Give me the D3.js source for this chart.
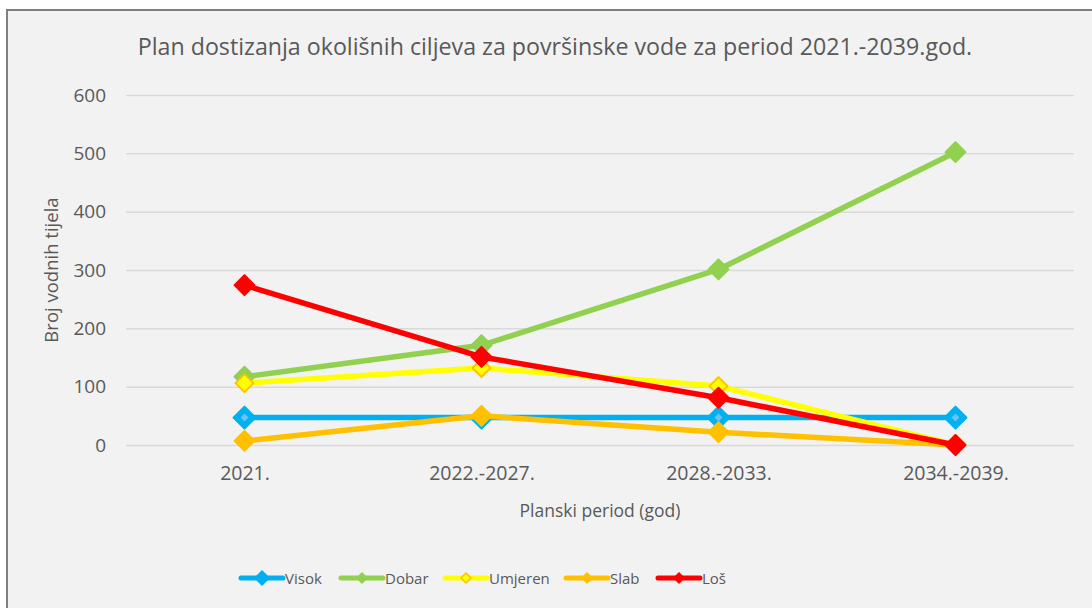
<!DOCTYPE html>
<html>
<head>
<meta charset="utf-8">
<script src="https://cdn.jsdelivr.net/npm/d3@7"></script>
<style>
  body { margin: 0; background: #fff; }
  svg { display: block; font-family: "Open Sans", sans-serif; }
  .grid line { stroke: #d9d9d9; stroke-width: 1.5; }
  .grid path { display: none; }
  .tick text { fill: #595959; }
</style>
</head>
<body>
<svg id="chart" width="1092" height="608"></svg>
<script>
const categories = ['2021.', '2022.-2027.', '2028.-2033.', '2034.-2039.'];
const yTicks = [0, 100, 200, 300, 400, 500, 600];

const visok = [47, 47, 47, 47];
const dobar = [117, 171, 301, 502];
const umjeren = [106, 132, 101, 0];
const slab = [7, 50, 22, 0];
const los = [274, 151, 81, 0];

const series = [
    { name: 'Visok', values: visok, color: '#00b0f0', fill: '#00b0f0', stroke: '#00b0f0', size: 11, inner: true },
    { name: 'Dobar', values: dobar, color: '#92d050', fill: '#92d050', stroke: '#92d050', size: 10 },
    { name: 'Umjeren', values: umjeren, color: '#ffff00', fill: '#ffff00', stroke: '#ffc000', size: 9 },
    { name: 'Slab', values: slab, color: '#ffc000', fill: '#ffc000', stroke: '#ffc000', size: 10 },
    { name: 'Loš', values: los, color: '#ff0000', fill: '#ff0000', stroke: '#ff0000', size: 10 }
];

const svg = d3.select('#chart');

// chart frame
svg.append('rect')
    .attr('x', 7).attr('y', 10)
    .attr('width', 1100).attr('height', 620)
    .attr('fill', '#f2f2f2')
    .attr('stroke', '#7f7f7f')
    .attr('stroke-width', 2);

const margin = { top: 95, left: 126, right: 18, bottom: 163 };
const width = 1092 - margin.left - margin.right;
const height = 608 - margin.top - margin.bottom;

const chart = svg.append('g')
    .attr('transform', `translate(${margin.left}, ${margin.top})`);

const xScale = d3.scalePoint()
    .range([0, width])
    .domain(categories)
    .padding(0.5);

const yScale = d3.scaleLinear()
    .range([height, 0])
    .domain([0, 600]);

/*grid*/
chart.append('g')
    .attr('class', 'grid')
    .call(d3.axisLeft(yScale)
        .tickValues(yTicks)
        .tickSize(-width)
        .tickFormat('')
    );

/*y axis labels*/
chart.append('g')
    .call(d3.axisLeft(yScale).tickValues(yTicks).tickSize(0).tickPadding(20))
    .call(g => g.select('.domain').remove())
    .call(g => g.selectAll('text').attr('font-size', 19).attr('font-family', '"Open Sans", sans-serif'));

/*x axis labels*/
chart.append('g')
    .attr('transform', `translate(0, ${height})`)
    .call(d3.axisBottom(xScale).tickSize(0).tickPadding(21))
    .call(g => g.select('.domain').remove())
    .call(g => g.selectAll('text').attr('font-size', 19.5).attr('font-family', '"Open Sans", sans-serif'));

const line = d3.line()
    .x((d, i) => xScale(categories[i]))
    .y((d) => yScale(d));

function diamond (g, cx, cy, s, s_) {
    return g.append('path')
        .attr('d', `M${cx},${cy - s}L${cx + s},${cy}L${cx},${cy + s}L${cx - s},${cy}Z`)
        .attr('fill', s_.fill)
        .attr('stroke', s_.stroke)
        .attr('stroke-width', 2)
        .attr('stroke-linejoin', 'round');
}

series.forEach((s) => {
    chart.append('path')
        .datum(s.values)
        .attr('fill', 'none')
        .attr('stroke', s.color)
        .attr('stroke-width', 5.5)
        .attr('stroke-linejoin', 'round')
        .attr('d', line);

    s.values.forEach((v, i) => {
        const cx = xScale(categories[i]);
        const cy = yScale(v);
        diamond(chart, cx, cy, s.size, s);
        if (s.inner) {
            chart.append('path')
                .attr('d', `M${cx},${cy - 4}L${cx + 4},${cy}L${cx},${cy + 4}L${cx - 4},${cy}Z`)
                .attr('fill', '#6cc2f0');
        }
    });
});

/*title*/
svg.append('text')
    .attr('x', 555).attr('y', 55)
    .attr('text-anchor', 'middle')
    .attr('font-size', 23.2)
    .attr('fill', '#595959')
    .text('Plan dostizanja okolišnih ciljeva za površinske vode za period 2021.-2039.god.');

/*axis titles*/
svg.append('text')
    .attr('transform', 'translate(58, 270) rotate(-90)')
    .attr('text-anchor', 'middle')
    .attr('font-size', 18.5)
    .attr('fill', '#595959')
    .text('Broj vodnih tijela');

svg.append('text')
    .attr('x', 600).attr('y', 517)
    .attr('text-anchor', 'middle')
    .attr('font-size', 17.5)
    .attr('fill', '#595959')
    .text('Planski period (god)');

/*legend*/
const legendX = [241, 341, 445, 566, 658];
const legend = svg.append('g');
series.forEach((s, i) => {
    const x0 = legendX[i];
    const y0 = 578;
    legend.append('line')
        .attr('x1', x0).attr('x2', x0 + 42)
        .attr('y1', y0).attr('y2', y0)
        .attr('stroke', s.color)
        .attr('stroke-width', 5)
        .attr('stroke-linecap', 'round');
    const ms = i === 0 ? 7 : 5;
    legend.append('path')
        .attr('d', `M${x0 + 21},${y0 - ms}L${x0 + 21 + ms},${y0}L${x0 + 21},${y0 + ms}L${x0 + 21 - ms},${y0}Z`)
        .attr('fill', s.fill)
        .attr('stroke', s.stroke)
        .attr('stroke-width', 1.5);
    legend.append('text')
        .attr('x', x0 + 44).attr('y', y0 + 6)
        .attr('font-size', 15)
        .attr('fill', '#595959')
        .text(s.name);
});
</script>
</body>
</html>
